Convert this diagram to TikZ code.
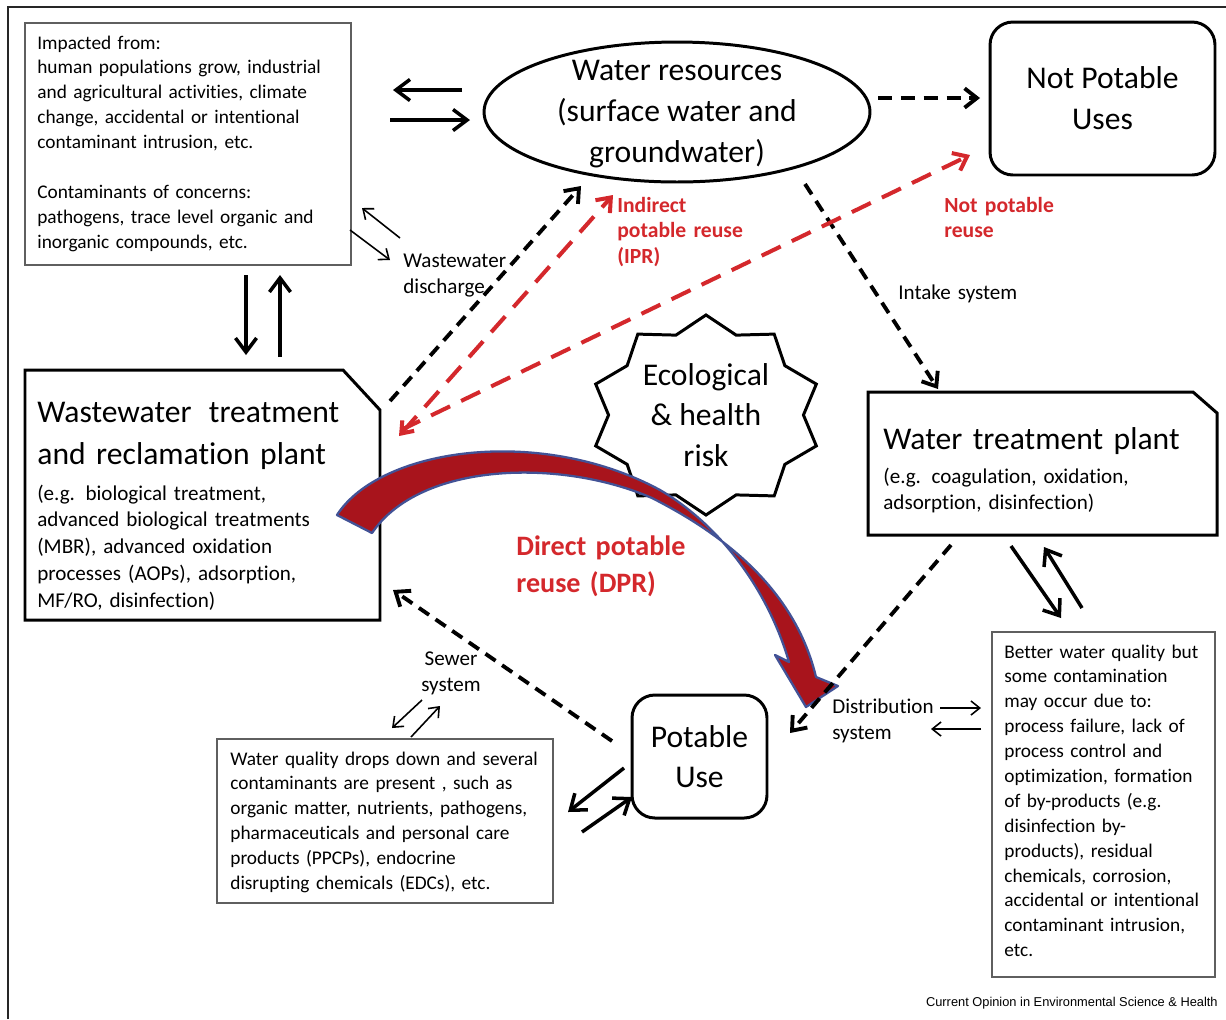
\documentclass[tikz,border=0pt]{standalone}
\usepackage{fontspec}
\setmainfont{Carlito}[Ligatures=NoCommon]
\newfontfamily\capfont{Liberation Sans}
\usetikzlibrary{arrows.meta,shapes.geometric,fit}

\definecolor{reuse}{RGB}{212,40,44}
\definecolor{dprfill}{RGB}{168,20,28}
\definecolor{dpredge}{RGB}{66,82,150}
\definecolor{boxgray}{RGB}{95,95,95}

% type sizes
\newcommand\szA{\fontsize{11}{14.17}\selectfont}
\newcommand\szB{\fontsize{12}{15.3}\selectfont}
\newcommand\szC{\fontsize{18}{23.2}\selectfont}
\newcommand\szD{\fontsize{16}{21.5}\selectfont}
\newcommand\szE{\fontsize{18}{24.4}\selectfont}

\begin{document}
\begin{tikzpicture}[x=0.02cm,y=-0.02cm,
  thinbox/.style={draw=boxgray, line width=0.85pt, inner sep=0pt},
  roundbox/.style={draw, line width=1.7pt, rounded corners=13pt, inner sep=0pt, align=center, font=\szC},
  plantedge/.style={line width=1.7pt, line join=miter},
  blocktext/.style={anchor=base west, inner sep=0pt, align=left},
  solidarrow/.style={line width=2pt, -{Straight Barb[length=8pt,width=12pt]}},
  dasharrow/.style={line width=2.2pt, dash pattern=on 7pt off 4.5pt, -{Straight Barb[length=7pt,width=11pt]}},
  reddash/.style={draw=reuse, line width=2.3pt, dash pattern=on 12pt off 7pt},
  thinarrow/.style={line width=0.9pt, -{Straight Barb[length=5pt,width=8pt]}},
  redlabel/.style={blocktext, text=reuse, font=\fontsize{12.3}{14.7}\selectfont\bfseries, text width=3cm},
  label/.style={blocktext, font=\szB, text width=3cm}
]
\useasboundingbox (0,0) rectangle (1226,1019);

% outer frame
\draw[line width=1.1pt, draw=black!85] (8,1019) -- (8,7) -- (1226,7);

% ---------- boxes and shapes ----------
% pressures on water resources
\node[thinbox, fit={(25,23)(351,265)}] (tl) {};
\node[blocktext, font=\szA, text width=6.4cm] (tltext) at (37,49)
 {Impacted from:\\human populations grow, industrial\\and agricultural activities, climate\\change, accidental or intentional\\contaminant intrusion, etc.\\\mbox{}\\Contaminants of concerns:\\pathogens, trace level organic and\\inorganic compounds, etc.};

% water resources
\node[ellipse, draw, line width=1.7pt, minimum width=7.72cm, minimum height=2.8cm,
      inner sep=0pt] (wr) at (677,112) {};
\node[align=center, font=\szC, inner sep=0pt] (wrtext) at (677,114)
 {Water resources\\(surface water and\\groundwater)};

% not potable uses
\node[roundbox, minimum width=4.5cm, minimum height=3.06cm] (np) at (1102.5,98.5) {Not Potable\\Uses};

% wastewater treatment and reclamation plant
\draw[plantedge] (25,370) -- (343,370) -- (380,410) -- (380,620) -- (25,620) -- cycle;
\node[fit={(25,370)(380,620)}, inner sep=0pt] (ww) {};
\node[blocktext, font=\szE, text width=7cm] (wwtitle) at (37,422)
 {Wastewater\hspace{0.55em}treatment\\and reclamation plant};
\node[blocktext, font=\szB, text width=7cm] (wwbody) at (37,500)
 {(e.g. biological treatment,\\advanced biological treatments\\(MBR), advanced oxidation\\processes (AOPs), adsorption,\\MF/RO, disinfection)};

% water treatment plant
\draw[plantedge] (868,392) -- (1193,392) -- (1217,413) -- (1217,535) -- (868,535) -- cycle;
\node[fit={(868,392)(1217,535)}, inner sep=0pt] (wtp) {};
\node[blocktext, font=\szC, text width=7cm] (wtptitle) at (883,449) {Water treatment plant};
\node[blocktext, font=\szB, text width=6cm] (wtpbody) at (883,483)
 {(e.g. coagulation, oxidation,\\adsorption, disinfection)};

% ecological and health risk star
\draw[line width=1.7pt, fill=white, line join=miter]
  plot[variable=\k, samples at={0,...,19}]
  ({706+116*(1-0.16*mod(\k,2))*cos(90+18*\k)}, {415-100*(1-0.16*mod(\k,2))*sin(90+18*\k)}) -- cycle;
\node[font=\szC, align=center, inner sep=0pt] (risk) at (706,415) {Ecological\\\& health\\risk};

% potable use
\node[roundbox, minimum width=2.7cm, minimum height=2.46cm] (pu) at (699.5,756.5) {Potable\\Use};

% sewage quality note
\node[thinbox, fit={(217,739)(553,903)}] (bl) {};
\node[blocktext, font=\szA, text width=6.6cm] (bltext) at (230,765)
 {Water quality drops down and several\\contaminants are present , such as\\organic matter, nutrients, pathogens,\\pharmaceuticals and personal care\\products (PPCPs), endocrine\\disrupting chemicals (EDCs), etc.};

% drinking water quality note
\node[thinbox, fit={(992,632)(1215,977)}] (br) {};
\node[blocktext, font=\szA, text width=4.4cm] (brtext) at (1004,658)
 {Better water quality but\\some contamination\\may occur due to:\\process failure, lack of\\process control and\\optimization, formation\\of by-products (e.g.\\disinfection by-\\products), residual\\chemicals, corrosion,\\accidental or intentional\\contaminant intrusion,\\etc.};

% ---------- connector end points ----------
\coordinate (p1s) at (462,90);   \coordinate (p1e) at (393,90);
\coordinate (p2s) at (390,120);  \coordinate (p2e) at (470,120);
\coordinate (p3s) at (246,275);  \coordinate (p3e) at (246,355);
\coordinate (p4s) at (280,357);  \coordinate (p4e) at (280,275);
\coordinate (p5s) at (1011,546); \coordinate (p5e) at (1061,618);
\coordinate (p6s) at (1082,608); \coordinate (p6e) at (1044,547);
\coordinate (p7s) at (624,768);  \coordinate (p7e) at (568,812);
\coordinate (p8s) at (582,832);  \coordinate (p8e) at (632,797);
\coordinate (q1s) at (400,238);  \coordinate (q1e) at (362,208);
\coordinate (q2s) at (350,230);  \coordinate (q2e) at (390,260);
\coordinate (q3s) at (940,708);  \coordinate (q3e) at (981,708);
\coordinate (q4s) at (981,729);  \coordinate (q4e) at (931,729);
\coordinate (q5s) at (422,700);  \coordinate (q5e) at (392,728);
\coordinate (q6s) at (411,737);  \coordinate (q6e) at (440,706);
\coordinate (discharge) at (390,401); \coordinate (recharge) at (581,186);
\coordinate (iprs) at (399,436);  \coordinate (ipre) at (613,195);
\coordinate (nprs) at (401,430);  \coordinate (npre) at (970,155);
\coordinate (wrout) at (878,98);  \coordinate (npin) at (980,98);
\coordinate (intake) at (805,184); \coordinate (wtpin) at (938,389);
\coordinate (wtpout) at (951,545); \coordinate (puin) at (790,733);
\coordinate (puout) at (612,741); \coordinate (wwin) at (393,590);

% ---------- connectors ----------
\draw[solidarrow] (p1s) -- (p1e);
\draw[solidarrow] (p2s) -- (p2e);
\draw[solidarrow] (p3s) -- (p3e);
\draw[solidarrow] (p4s) -- (p4e);
\draw[solidarrow] (p5s) -- (p5e);
\draw[solidarrow] (p6s) -- (p6e);
\draw[solidarrow] (p7s) -- (p7e);
\draw[solidarrow] (p8s) -- (p8e);
\draw[thinarrow] (q1s) -- (q1e);
\draw[thinarrow] (q2s) -- (q2e);
\draw[thinarrow] (q3s) -- (q3e);
\draw[thinarrow] (q4s) -- (q4e);
\draw[thinarrow] (q5s) -- (q5e);
\draw[thinarrow] (q6s) -- (q6e);

\draw[dasharrow] (discharge) -- (recharge);
\draw[dasharrow, dash pattern=on 8pt off 5pt] (wrout) -- (npin);
\draw[dasharrow] (intake) -- (wtpin);
\draw[dasharrow] (puout) -- (wwin);

\draw[reddash, {Straight Barb[length=6pt,width=9pt]}-{Straight Barb[length=7pt,width=11pt]}] (iprs) -- (ipre);
\draw[reddash, -{Straight Barb[length=7pt,width=11pt]}] (nprs) -- (npre);

% direct potable reuse arrow
\draw[fill=dprfill, draw=dpredge, line width=1.3pt, line join=round]
  (337,515) .. controls (380,448) and (540,425) .. (660,490)
  .. controls (720,525) and (768,590) .. (789,662)
  -- (775,655) -- (806,707) -- (838,686) -- (816,677)
  .. controls (795,590) and (725,535) .. (652,498)
  .. controls (560,458) and (420,462) .. (372,533) -- cycle;

\draw[dasharrow] (wtpout) -- (puin);

% ---------- labels ----------
\node[label] (lbdis) at (403,267) {Wastewater\\discharge};
\node[label] (lbint) at (898,299) {Intake system};
\node[anchor=base, align=center, inner sep=0pt, font=\szB, text width=2cm] (lbsew) at (451,665) {Sewer\\system};
\node[label] (lbdist) at (832,713) {Distribution\\system};
\node[redlabel] (lbipr) at (617,212) {Indirect\\potable reuse\\(IPR)};
\node[redlabel] (lbnpr) at (944,212) {Not potable\\reuse};
\node[blocktext, text=reuse, font=\szD\bfseries, text width=4cm] (lbdpr) at (516,555) {Direct potable\\reuse (DPR)};

\node[anchor=base east, inner sep=0pt, font={\capfont\fontsize{7.3}{9}\selectfont}] (credit) at (1218,1006)
 {Current Opinion in Environmental Science \& Health};
\end{tikzpicture}
\end{document}
